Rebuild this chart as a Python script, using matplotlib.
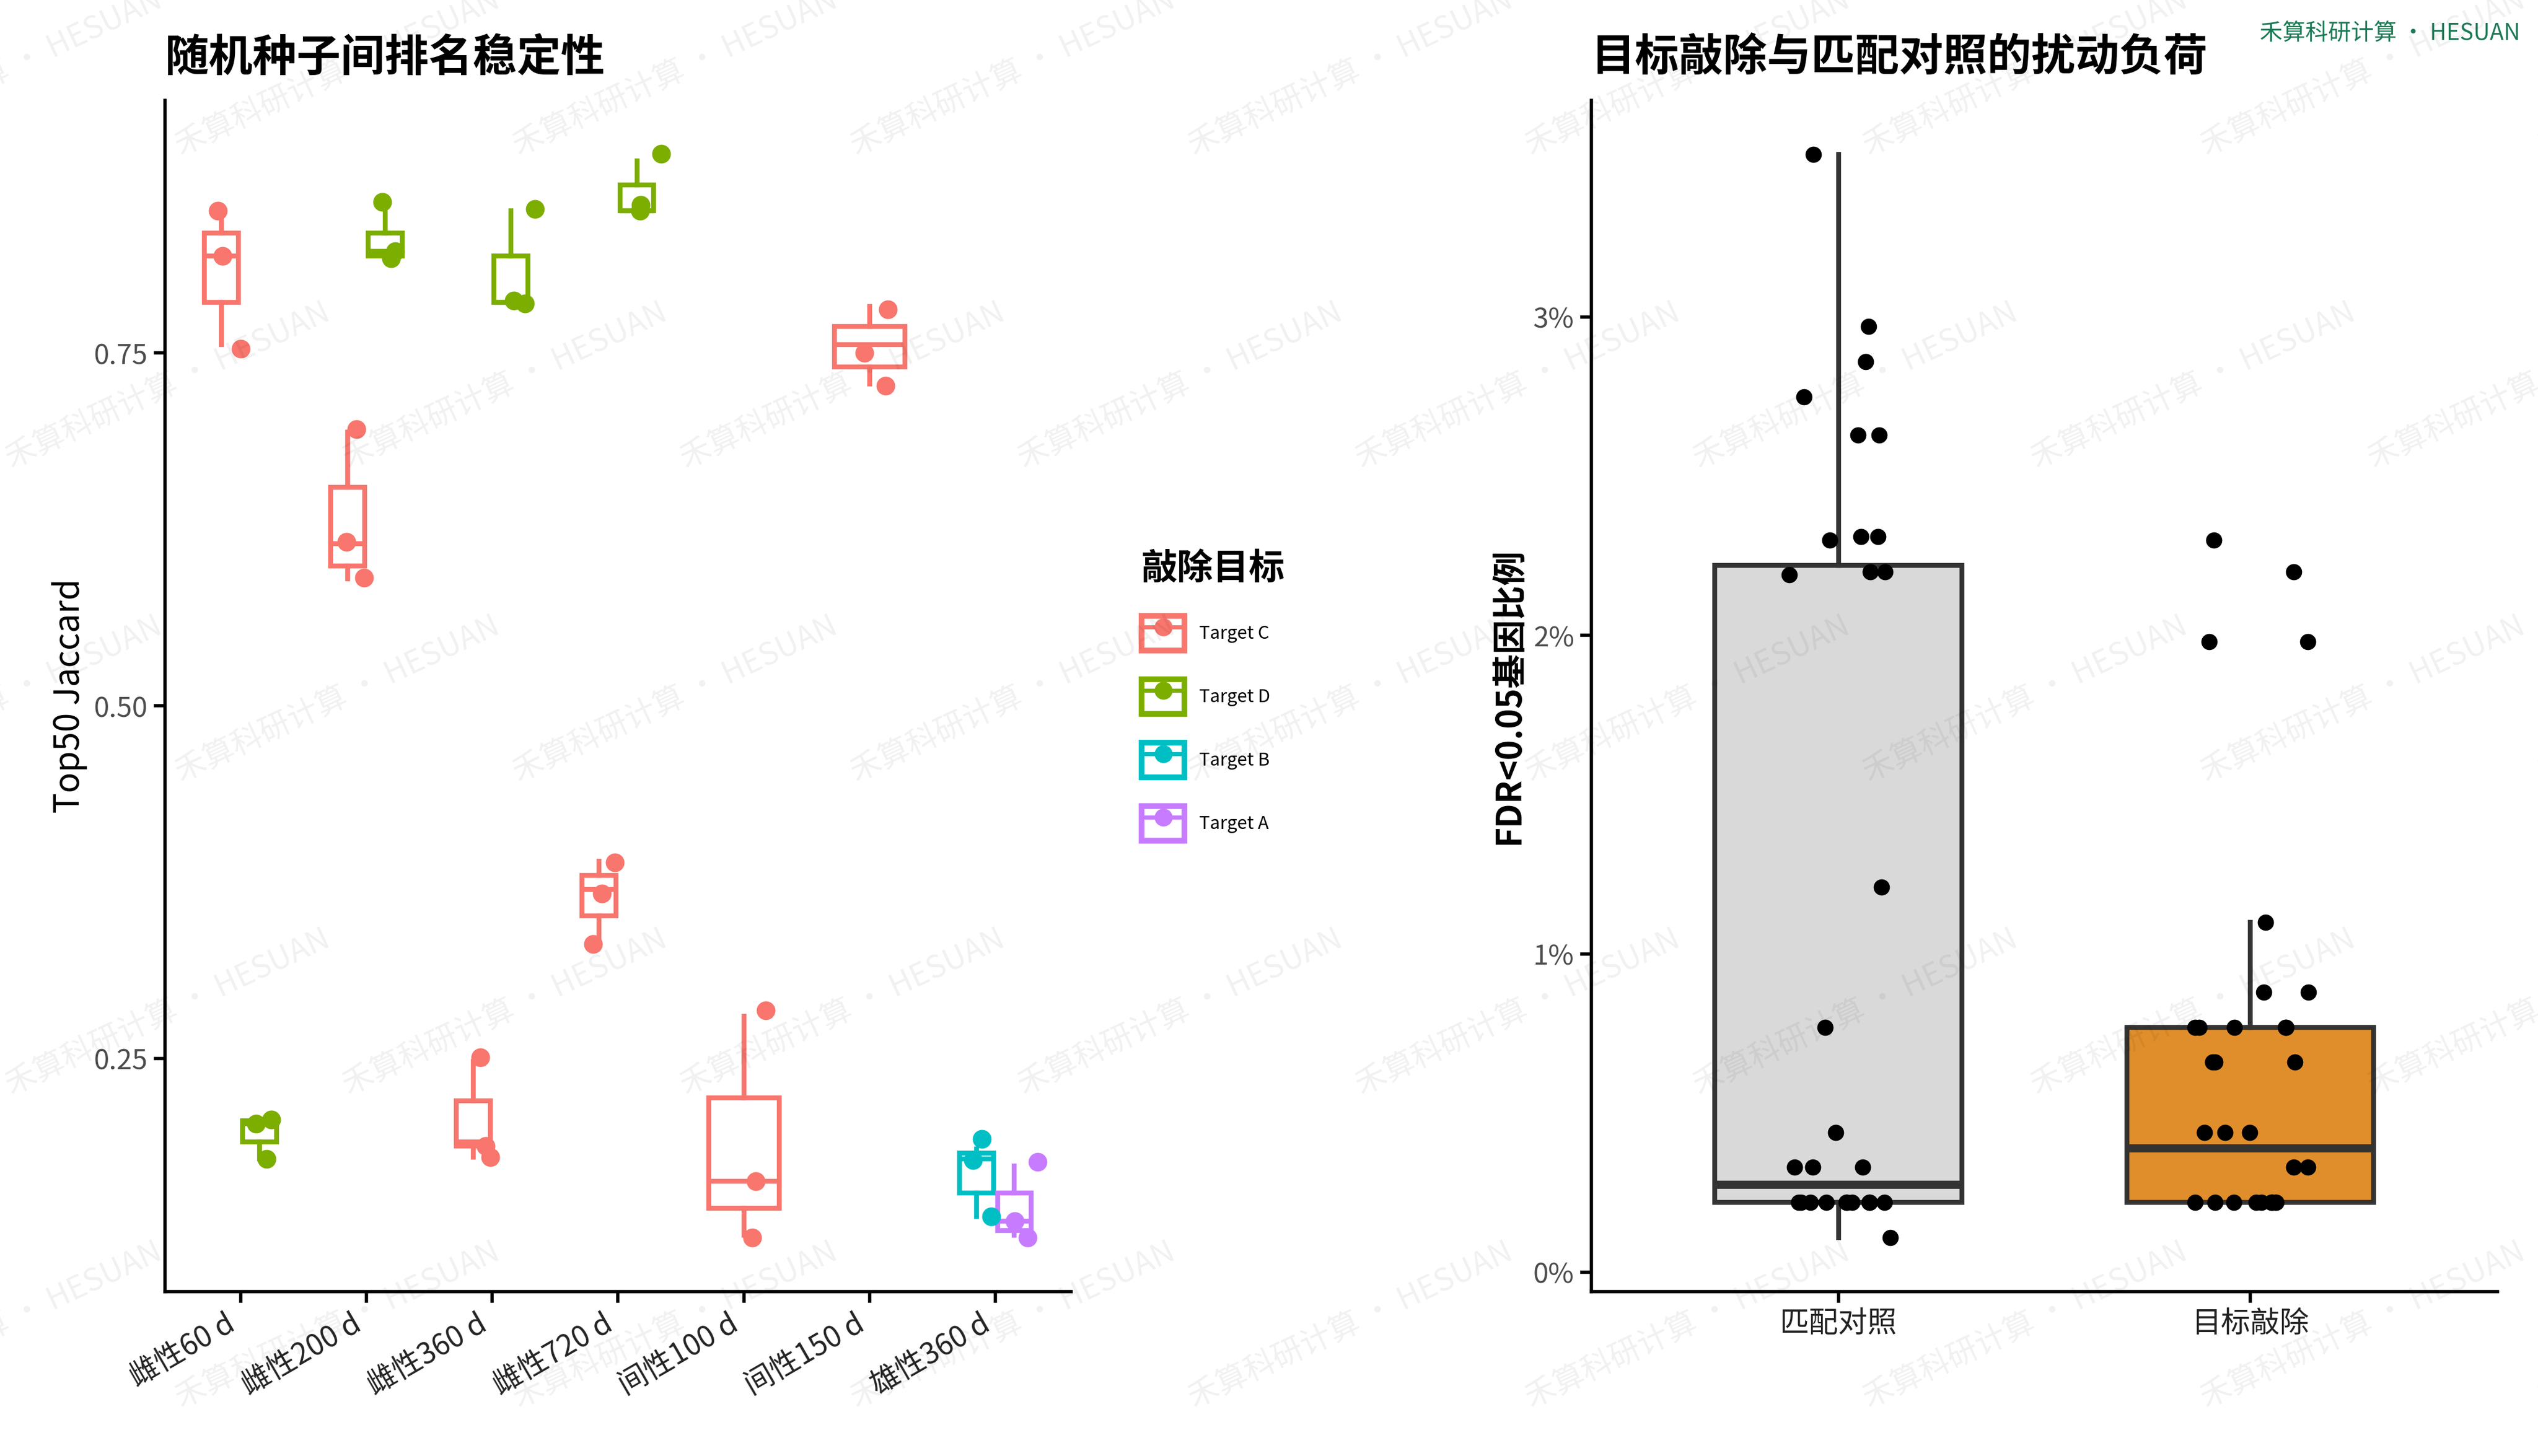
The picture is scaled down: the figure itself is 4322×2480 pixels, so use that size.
import numpy as np
import matplotlib
matplotlib.use('Agg')
import matplotlib.pyplot as plt
from matplotlib.patches import Patch
from matplotlib.lines import Line2D

plt.rcParams['font.family'] = ['Noto Sans CJK SC', 'DejaVu Sans']

# ── left panel data ─────────────────────────────────────────────
groups = ["雌性60 d", "雌性200 d", "雌性360 d", "雌性720 d", "间性100 d", "间性150 d", "雄性360 d"]
target_colors = {"Target C": "#F8766D", "Target D": "#7CAE00", "Target B": "#00BFC4", "Target A": "#C77CFF"}
# (group index, target, [whislo, q1, med, q3, whishi], points)
left_boxes = [
    (0, "Target C", [0.756, 0.786, 0.819, 0.835, 0.851], [0.851, 0.819, 0.753]),
    (0, "Target D", [0.179, 0.191, 0.204, 0.206, 0.206], [0.207, 0.204, 0.179]),
    (1, "Target C", [0.590, 0.599, 0.615, 0.655, 0.694], [0.696, 0.616, 0.591]),
    (1, "Target D", [0.819, 0.819, 0.822, 0.835, 0.851], [0.857, 0.817, 0.822]),
    (2, "Target C", [0.180, 0.188, 0.191, 0.220, 0.248], [0.251, 0.188, 0.180]),
    (2, "Target D", [0.786, 0.786, 0.786, 0.819, 0.851], [0.852, 0.787, 0.785]),
    (3, "Target C", [0.335, 0.351, 0.370, 0.380, 0.390], [0.389, 0.367, 0.331]),
    (3, "Target D", [0.851, 0.851, 0.851, 0.869, 0.886], [0.891, 0.851, 0.855]),
    (4, "Target C", [0.125, 0.144, 0.163, 0.222, 0.280], [0.284, 0.163, 0.123]),
    (5, "Target C", [0.728, 0.740, 0.756, 0.769, 0.783], [0.781, 0.750, 0.727]),
    (6, "Target B", [0.138, 0.155, 0.179, 0.183, 0.186], [0.193, 0.178, 0.138]),
    (6, "Target A", [0.125, 0.128, 0.135, 0.155, 0.174], [0.177, 0.135, 0.123]),
]

# ── right panel data (percent) ──────────────────────────────────
right_cats = ["匹配对照", "目标敲除"]
right_fill = ["#D9D9D9", "#E08E2B"]
right_stats = [[0.11, 0.22, 0.275, 2.22, 3.51], [0.22, 0.22, 0.39, 0.77, 1.10]]
control_pts = [3.51, 2.97, 2.86, 2.75, 2.63, 2.63, 2.31, 2.31, 2.30, 2.20, 2.20, 2.19,
               1.21, 0.77, 0.44, 0.33, 0.33, 0.33] + [0.22] * 10 + [0.11]
knockout_pts = [2.30, 2.20, 1.98, 1.98, 1.10, 0.88, 0.88, 0.77, 0.77, 0.77, 0.77, 0.77,
                0.66, 0.66, 0.66, 0.44, 0.44, 0.44, 0.33, 0.33] + [0.22] * 10
right_pts = [control_pts, knockout_pts]

fig = plt.figure(figsize=(21.61, 12.4), dpi=200)
ax1 = fig.add_axes([0.065, 0.113, 0.357, 0.818])
ax2 = fig.add_axes([0.627, 0.113, 0.357, 0.818])

# watermark
for i in range(-1, 9):
    for j in range(0, 5):
        fig.text(i * 0.133 + (j % 2) * 0.066, j * 0.215 + 0.09, "禾算科研计算 · HESUAN",
                 rotation=25, fontsize=19, color="#000000", alpha=0.06, ha="center", va="center")

rng = np.random.default_rng(3)
for gi, tgt, st, pts in left_boxes:
    n_in_group = sum(1 for b in left_boxes if b[0] == gi)
    if n_in_group == 2:
        order = [b[1] for b in left_boxes if b[0] == gi].index(tgt)
        pos = gi + (-0.15 if order == 0 else 0.15)
        w = 0.27
    else:
        pos, w = gi, 0.56
    c = target_colors[tgt]
    ax1.bxp([dict(whislo=st[0], q1=st[1], med=st[2], q3=st[3], whishi=st[4], fliers=[])],
            positions=[pos], widths=w, showcaps=False, patch_artist=True,
            boxprops=dict(facecolor="white", edgecolor=c, linewidth=3),
            whiskerprops=dict(color=c, linewidth=3), medianprops=dict(color=c, linewidth=3))
    ax1.scatter(pos + rng.uniform(-0.05, 0.2, len(pts)), pts, s=110, color=c, zorder=4)

ax1.set_xlim(-0.6, 6.6)
ax1.set_ylim(0.085, 0.929)
ax1.set_xticks(range(len(groups)))
ax1.set_xticklabels(groups, rotation=30, ha="right", fontsize=18, fontweight="medium", color="#222222")
ax1.set_yticks([0.25, 0.50, 0.75])
ax1.set_yticklabels(["0.25", "0.50", "0.75"], fontsize=17, color="#4d4d4d")
ax1.set_ylabel("Top50 Jaccard", fontsize=21)
ax1.set_title("随机种子间排名稳定性", fontsize=27, fontweight="bold", loc="left", pad=18)

handles = [(Patch(facecolor="white", edgecolor=c, linewidth=3.5),
            Line2D([], [], marker="o", color=c, linestyle="-", markersize=10, linewidth=2.5))
           for c in target_colors.values()]
leg = ax1.legend(handles, list(target_colors.keys()), title="敲除目标", loc="center left",
                 bbox_to_anchor=(1.06, 0.5), frameon=False, fontsize=11,
                 handlelength=2.4, handleheight=2.6, labelspacing=1.6, alignment="left")
leg.get_title().set_fontsize(22)
leg.get_title().set_fontweight("bold")

for k in range(2):
    ax2.bxp([dict(whislo=right_stats[k][0], q1=right_stats[k][1], med=right_stats[k][2],
                  q3=right_stats[k][3], whishi=right_stats[k][4], fliers=[])],
            positions=[k], widths=0.6, showcaps=False, patch_artist=True,
            boxprops=dict(facecolor=right_fill[k], edgecolor="#333333", linewidth=3),
            whiskerprops=dict(color="#333333", linewidth=3),
            medianprops=dict(color="#333333", linewidth=5))
    pts = right_pts[k]
    ax2.scatter(k + rng.uniform(-0.15, 0.15, len(pts)), pts, s=80, color="black", zorder=4)

ax2.set_xlim(-0.6, 1.6)
ax2.set_ylim(-0.06, 3.68)
ax2.set_xticks([0, 1])
ax2.set_xticklabels(right_cats, fontsize=18, fontweight="medium", color="#222222")
ax2.set_yticks([0, 1, 2, 3])
ax2.set_yticklabels(["0%", "1%", "2%", "3%"], fontsize=17, color="#4d4d4d")
ax2.set_ylabel("FDR<0.05基因比例", fontsize=21, fontweight="bold")
ax2.set_title("目标敲除与匹配对照的扰动负荷", fontsize=27, fontweight="bold", loc="left", pad=18)

for ax in (ax1, ax2):
    for s in ("top", "right"):
        ax.spines[s].set_visible(False)
    for s in ("left", "bottom"):
        ax.spines[s].set_linewidth(2)
    ax.tick_params(width=2, length=7)

fig.text(0.993, 0.985, "禾算科研计算 · HESUAN", ha="right", va="top", fontsize=14, color="#1B7A55")

plt.savefig("out.png", dpi=200)
plt.close()
